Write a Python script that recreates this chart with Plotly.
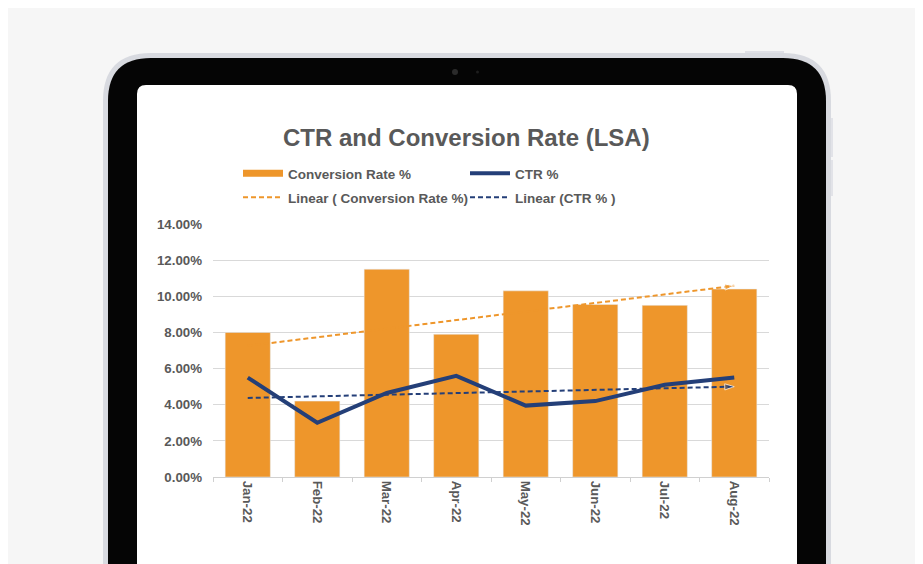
import numpy as np
import plotly.graph_objects as go

# data
months = ["Jan-22", "Feb-22", "Mar-22", "Apr-22", "May-22", "Jun-22", "Jul-22", "Aug-22"]
conversion_rate = [0.0800, 0.0420, 0.1150, 0.0790, 0.1030, 0.0955, 0.0950, 0.1040]
ctr = [0.0550, 0.0300, 0.0465, 0.0560, 0.0395, 0.0420, 0.0510, 0.0550]

# linear trendlines (like excel)
idx = np.arange(1, len(months) + 1)
conv_fit = np.polyval(np.polyfit(idx, conversion_rate, 1), idx)
ctr_fit = np.polyval(np.polyfit(idx, ctr, 1), idx)

ORANGE = "#EE962B"
NAVY = "#243F78"
GREY = "#595959"
FONT = "Liberation Sans, Arial, sans-serif"

# page has an 8px body margin, so the figure sits at (8, 8) in the window
OFF = 8
W, H = 923 - OFF, 564 - OFF
# plot area in window pixels
L, R, T, B = 213, 769, 224, 477


def px(x):
    return (x - L) / (R - L)


def py(y):
    return (B - y) / (B - T)


def rrect(x0, y0, x1, y1, r):
    pts = [("M", x0 + r, y0), ("L", x1 - r, y0), ("Q", x1, y0, x1, y0 + r),
           ("L", x1, y1 - r), ("Q", x1, y1, x1 - r, y1), ("L", x0 + r, y1),
           ("Q", x0, y1, x0, y1 - r), ("L", x0, y0 + r), ("Q", x0, y0, x0 + r, y0)]
    s = ""
    for p in pts:
        nums = p[1:]
        parts = []
        for i in range(0, len(nums), 2):
            parts.append("%.5f,%.5f" % (px(nums[i]), py(nums[i + 1])))
        s += p[0] + " ".join(parts) + " "
    return s + "Z"


fig = go.Figure()

fig.add_trace(go.Bar(x=months, y=conversion_rate, marker_color=ORANGE, showlegend=False,
                     name="Conversion Rate %"))
# legend stand-in for the bar so it looks like the wide excel swatch
fig.add_trace(go.Scatter(x=[None], y=[None], mode="lines", name="Conversion Rate %",
                         line=dict(color=ORANGE, width=7), legend="legend"))
fig.add_trace(go.Scatter(x=months, y=ctr, mode="lines", name="CTR %",
                         line=dict(color=NAVY, width=4), legend="legend"))
fig.add_trace(go.Scatter(x=months, y=conv_fit, mode="lines", name="Linear ( Conversion Rate %)",
                         line=dict(color=ORANGE, width=2, dash="5px,3px"), legend="legend2"))
fig.add_trace(go.Scatter(x=months, y=ctr_fit, mode="lines", name="Linear (CTR % )",
                         line=dict(color=NAVY, width=2, dash="5px,3px"), legend="legend2"))
# arrow heads on the trendlines
for fit, col in [(conv_fit, ORANGE), (ctr_fit, NAVY)]:
    fig.add_trace(go.Scatter(x=months[-2:], y=fit[-2:], mode="markers", showlegend=False,
                             marker=dict(symbol="arrow", size=[0, 10], color=col, angleref="previous")))

shapes = [
    dict(type="rect", xref="paper", yref="paper", x0=px(745), x1=px(784), y0=py(51), y1=py(57),
         fillcolor="#dfe0e6", line_width=0, layer="below"),
    dict(type="rect", xref="paper", yref="paper", x0=px(826), x1=px(833), y0=py(118), y1=py(157),
         fillcolor="#e2e3e8", line_width=0, layer="below"),
    dict(type="rect", xref="paper", yref="paper", x0=px(826), x1=px(833), y0=py(160), y1=py(196),
         fillcolor="#e2e3e8", line_width=0, layer="below"),
    dict(type="path", xref="paper", yref="paper", path=rrect(103, 53, 831, 660, 48),
         fillcolor="#d8dae0", line_width=0, layer="below"),
    dict(type="path", xref="paper", yref="paper", path=rrect(108, 58, 826, 660, 43),
         fillcolor="#050505", line_width=0, layer="below"),
    dict(type="path", xref="paper", yref="paper", path=rrect(137, 85, 797, 660, 9),
         fillcolor="white", line_width=0, layer="below"),
    dict(type="circle", xref="paper", yref="paper", x0=px(452), x1=px(458), y0=py(69), y1=py(75),
         fillcolor="#2b2b2b", line_width=0, layer="below"),
    dict(type="circle", xref="paper", yref="paper", x0=px(476), x1=px(479), y0=py(70.5), y1=py(73.5),
         fillcolor="#1e1e1e", line_width=0, layer="below"),
]

legend_style = dict(orientation="h", xanchor="left", yanchor="top", entrywidth=172,
                    entrywidthmode="pixels", itemwidth=40, bgcolor="rgba(0,0,0,0)",
                    font=dict(size=13.5, color=GREY, weight="bold"))

fig.update_layout(
    width=W, height=H,
    margin=dict(l=L - OFF, r=W - (R - OFF), t=T - OFF, b=H - (B - OFF), pad=0),
    paper_bgcolor="#f6f6f6", plot_bgcolor="rgba(0,0,0,0)",
    font=dict(family=FONT, color=GREY, size=14),
    bargap=0.35,
    shapes=shapes,
    annotations=[dict(text="<b>CTR and Conversion Rate (LSA)</b>", xref="paper", yref="paper",
                      x=px(466), y=py(137), xanchor="center", yanchor="middle", showarrow=False,
                      font=dict(size=24, color=GREY, family=FONT))],
    legend=dict(legend_style, x=px(238), y=py(158)),
    legend2=dict(legend_style, x=px(238), y=py(182)),
)
fig.update_xaxes(tickangle=90, tickfont=dict(size=13.3, color=GREY, weight="bold"), showline=True,
                 linecolor="#d0d0d0", ticks="outside", tickson="boundaries", ticklen=4,
                 tickcolor="#d0d0d0", showgrid=False, fixedrange=True)
fig.update_yaxes(range=[0, 0.14], dtick=0.02, tickformat=".2%",
                 tickfont=dict(size=13.3, color=GREY, weight="bold"),
                 gridcolor="#d9d9d9", gridwidth=1, zeroline=False, ticks="", ticklabelstandoff=10,
                 fixedrange=True)

fig.write_html("out.html")
